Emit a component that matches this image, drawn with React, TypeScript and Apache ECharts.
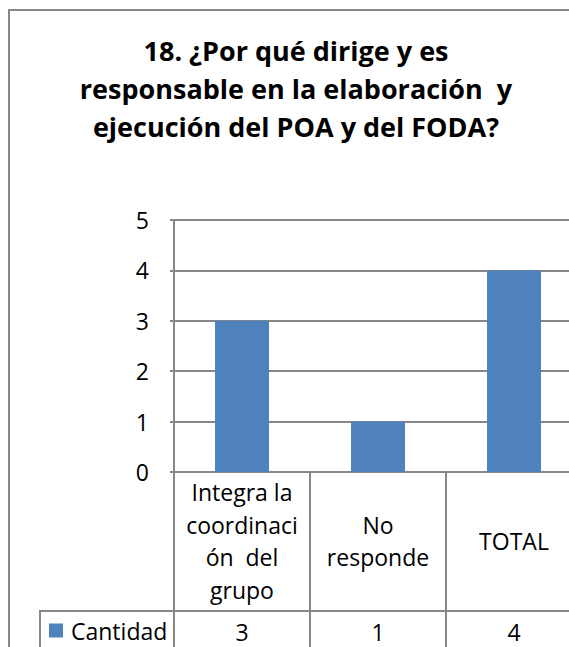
import React, { useEffect, useRef } from "react";
import * as echarts from "echarts";

const titleText = "18. ¿Por qué dirige y es\nresponsable en la elaboración  y\nejecución del POA y del FODA?";
const categories = ["Integra la\ncoordinaci\nón  del\ngrupo", "No\nresponde", "TOTAL"];
const seriesName = "Cantidad";
const values = [3, 1, 4];
const yTicks = [0, 1, 2, 3, 4, 5];

const FONT = "'Open Sans', sans-serif";
const GRAY = "#878787";
const BLUE = "#4F81BD";
const FS = 23;

export default function App() {
  const ref = useRef<HTMLDivElement>(null);
  useEffect(() => {
    if (!ref.current) return;
    const chart = echarts.init(ref.current, undefined, { renderer: "svg" });
    const gridLeft = 174;
    const gridTop = 220;
    const gridH = 252;
    const gridW = 408;
    const tableRow1 = 139;
    chart.setOption({
      animation: false,
      backgroundColor: "#fff",
      textStyle: { fontFamily: FONT },
      title: {
        text: titleText,
        left: 291,
        top: 26,
        textAlign: "center",
        textStyle: {
          fontFamily: FONT,
          fontWeight: "bold",
          fontSize: 27,
          lineHeight: 38,
          color: "#000",
        },
      },
      legend: {
        data: [seriesName],
        left: 44,
        top: 614,
        icon: "rect",
        itemWidth: 14,
        itemHeight: 14,
        itemGap: 5,
        textStyle: { fontFamily: FONT, fontSize: FS, color: "#000", padding: [0, 0, 0, 3] },
      },
      grid: { left: gridLeft, top: gridTop, width: gridW, height: gridH },
      xAxis: [
        {
          type: "category",
          data: categories,
          position: "bottom",
          axisLine: { show: true, lineStyle: { color: GRAY, width: 2 } },
          axisTick: { show: true, length: tableRow1, interval: 0, lineStyle: { color: GRAY, width: 2 } },
          axisLabel: {
            interval: 0,
            margin: 69,
            verticalAlign: "middle",
            fontFamily: FONT,
            fontSize: FS,
            lineHeight: 32.5,
            color: "#000",
            align: "center",
          },
        },
        {
          type: "category",
          data: categories,
          position: "bottom",
          offset: tableRow1,
          axisLine: { show: true, lineStyle: { color: GRAY, width: 2 } },
          axisTick: { show: true, length: 45, interval: 0, lineStyle: { color: GRAY, width: 2 } },
          axisLabel: {
            interval: 0,
            margin: 21,
            verticalAlign: "middle",
            fontFamily: FONT,
            fontSize: FS,
            color: "#000",
            formatter: (_v: string, i: number) => String(values[i]),
          },
        },
      ],
      yAxis: {
        type: "value",
        min: yTicks[0],
        max: yTicks[yTicks.length - 1],
        interval: 1,
        axisLine: { show: true, lineStyle: { color: GRAY, width: 2 } },
        axisTick: { show: true, length: 4, lineStyle: { color: GRAY, width: 2 } },
        splitLine: { show: true, lineStyle: { color: GRAY, width: 2 } },
        axisLabel: { margin: 25, fontFamily: FONT, fontSize: FS, color: "#000" },
      },
      series: [
        {
          name: seriesName,
          type: "bar",
          xAxisIndex: 0,
          data: values,
          barWidth: 54,
          itemStyle: { color: BLUE },
        },
      ],
      graphic: [
        { type: "line", shape: { x1: 9, y1: 10, x2: 9, y2: 647 }, style: { stroke: GRAY, lineWidth: 2 } },
        { type: "line", shape: { x1: 8, y1: 10, x2: 600, y2: 10 }, style: { stroke: GRAY, lineWidth: 2 } },
        { type: "line", shape: { x1: 40, y1: 611, x2: 174, y2: 611 }, style: { stroke: GRAY, lineWidth: 2 } },
        { type: "line", shape: { x1: 40, y1: 610, x2: 40, y2: 647 }, style: { stroke: GRAY, lineWidth: 2 } },
      ],
    });
    return () => chart.dispose();
  }, []);
  return (
    <div
      style={{ position: "absolute", left: 0, top: 0, width: 569, height: 647, overflow: "hidden" }}
    >
      <div ref={ref} style={{ width: 600, height: 647 }} />
    </div>
  );
}
